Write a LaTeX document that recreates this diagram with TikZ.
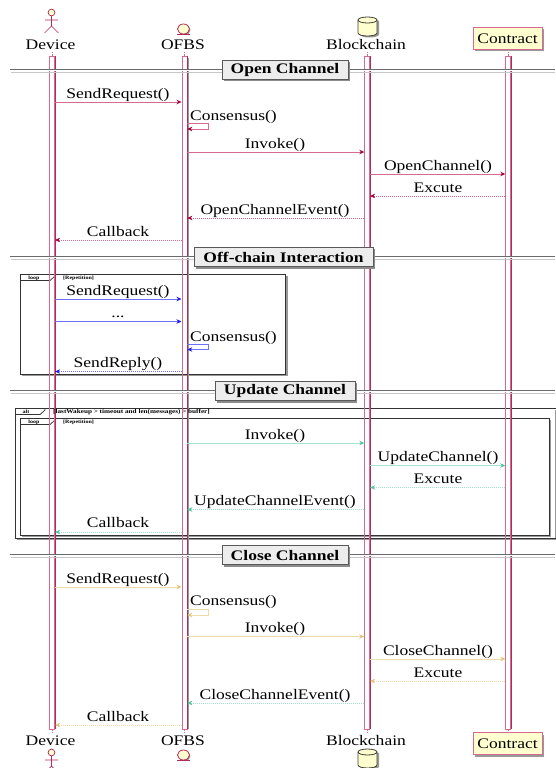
\documentclass[tikz,border=0pt]{standalone}
\usepackage{fontspec}
\setmainfont[FakeStretch=1.2]{Liberation Serif}
\usetikzlibrary{arrows.meta,shapes.geometric}
\definecolor{crim}{HTML}{B02C5C}
\definecolor{crimL}{HTML}{D86A90}
\definecolor{crimD}{HTML}{A80036}
\definecolor{ye}{HTML}{FEFECE}
\definecolor{bluL}{HTML}{6F6FFF}
\definecolor{bluD}{HTML}{1A1AF0}
\definecolor{grnL}{HTML}{A4E4CC}
\definecolor{grnD}{HTML}{4CC8A0}
\definecolor{ambL}{HTML}{EEDCA8}
\definecolor{ambD}{HTML}{E2C47C}
\tikzset{
  lbl/.style={anchor=base,inner sep=0pt,font=\fontsize{14.6}{16}\selectfont},
  lblw/.style={lbl,anchor=base west},
  tiny/.style={anchor=base,inner sep=0pt,font=\fontsize{5}{6}\selectfont\bfseries},
  tinyw/.style={tiny,anchor=base west},
  ttl/.style={draw=black!65,line width=1pt,fill=black!7,inner sep=0pt,minimum height=19pt,text=black,
     font=\fontsize{14.6}{16}\selectfont\bfseries},
  barbox/.style={draw=crimL,line width=.8pt,minimum width=5pt,minimum height=673pt,inner sep=0pt},
  divl/.style={draw=black!58,line width=.8pt,double=white,double distance=.5pt},
  divs/.style={draw=black!22,line width=.8pt},
  frm/.style={draw=black!80,line width=1pt},
  sol/.style={line width=.7pt,draw=#1L,-{Stealth[length=5pt,width=4.5pt,color=#1D]}},
  dsh/.style={line width=.6pt,draw=#1L,dash pattern=on 1pt off 1pt,-{Stealth[length=5pt,width=4.5pt,color=#1D]}},
  stub/.style={draw=crimL,line width=.5pt,dash pattern=on 1.5pt off 1.5pt},
  head/.style={draw=crimL,line width=1pt,fill=ye,inner sep=0pt,minimum width=69pt,minimum height=22pt,
     font=\fontsize{14.6}{16}\selectfont},
  actorpic/.pic={
    \draw[crim,line width=.7pt,fill=ye] (0,-7.5) circle[radius=3.4pt];
    \draw[crim,line width=.7pt] (0,-4) -- (0,6) (-6.5,0) -- (6.5,0) (-7,13) -- (0,6) -- (7,13);
  },
  entitypic/.pic={
    \fill[black!40] (1,1) ellipse[x radius=6pt,y radius=5pt];
    \draw[crim,line width=.8pt,fill=ye] (0,0) ellipse[x radius=6pt,y radius=5pt];
    \draw[crim,line width=.8pt] (-6.5,5.5) -- (6.5,5.5);
  },
  dbpic/.pic={
    \fill[black!40] (-7.5,-5) -- (-7.5,8.5) arc[start angle=180,end angle=360,x radius=9.5pt,y radius=3pt] -- (11.5,-5) -- cycle;
    \draw[black!75!ye,line width=.8pt,fill=ye] (-9.5,-6) -- (-9.5,7) arc[start angle=180,end angle=360,x radius=9.5pt,y radius=3pt]
      -- (9.5,-6) arc[start angle=0,end angle=180,x radius=9.5pt,y radius=3pt] -- cycle;
    \draw[black!75!ye,line width=.8pt] (-9.5,-6) arc[start angle=180,end angle=360,x radius=9.5pt,y radius=3pt];
  }
}
\begin{document}
\begin{tikzpicture}[x=1pt,y=-1pt]
\useasboundingbox (0,0) rectangle (555,768);
\fill[white] (0,0) rectangle (555,768);

% frame backgrounds
\fill[black!40] (22,276) rectangle (287.5,376);
\fill[white] (20,274) rectangle (285.5,374);
\fill[black!40] (17,410) rectangle (557,540);
\fill[white] (15,408) rectangle (555,538);
\fill[black!40] (22,420) rectangle (551,537);
\fill[white] (20,418) rectangle (549,535);
% frame outlines
\draw[frm] (20,274) rectangle (285.5,374);
\draw[frm,line width=.7pt] (20,280.5) -- (50,280.5) -- (55,276) -- (55,274);
\draw[frm] (15,408) -- (556,408) (556,538) -- (15,538) -- (15,408);
\draw[frm,line width=.7pt] (15,414.5) -- (40,414.5) -- (45,410) -- (45,408);
\draw[frm] (20,418) rectangle (549,535);
\draw[frm,line width=.7pt] (20,424.5) -- (50,424.5) -- (55,420) -- (55,418);

% lifelines
\foreach \cx in {52.2,184.4,367.2,508.2}{
  \fill[black!40] (\cx+2.8,58) rectangle (\cx+4.2,729);
}
\node[barbox] (dev) at (52.2,392.5) {};
\node[barbox] (ofb) at (184.4,392.5) {};
\node[barbox] (bch) at (367.2,392.5) {};
\node[barbox] (con) at (508.2,392.5) {};
\draw[crim,line width=.7pt] (dev.north east) -- (dev.south east);
\draw[crim,line width=.7pt] (ofb.north east) -- (ofb.south east);
\draw[crim,line width=.7pt] (bch.north east) -- (bch.south east);
\draw[crim,line width=.7pt] (con.north east) -- (con.south east);

% frame labels
\node[tiny] (loopA) at (34,279) {loop};
\node[tinyw] (repA) at (63,279) {[Repetition]};
\node[tiny] (altA) at (26,413.5) {alt};
\node[tinyw,font=\fontsize{6}{7}\selectfont\bfseries] (guard) at (53,413.5) {[lastWakeup > timeout and len(messages) > buffer]};
\node[tiny] (loopB) at (34,423) {loop};
\node[tinyw] (repB) at (63,423) {[Repetition]};

% participants, top
\node[lbl] (devT) at (50.5,49) {Device};
\node[lbl] (ofbT) at (183,49) {OFBS};
\node[lbl] (bchT) at (366,49) {Blockchain};
\fill[black!40] (475,29.5) rectangle (544,51.5);
\node[head] (conT) at (507.5,38.5) {Contract};
\pic at (51.5,20) {actorpic};
\pic at (183.5,29) {entitypic};
\pic at (367.5,26) {dbpic};
% participants, bottom
\node[lbl] (devB) at (50.5,745) {Device};
\node[lbl] (ofbB) at (183,745) {OFBS};
\node[lbl] (bchB) at (366,745) {Blockchain};
\fill[black!40] (475,734.5) rectangle (544,756.5);
\node[head] (conB) at (507.5,743.5) {Contract};
\pic at (51.5,760) {actorpic};
\pic at (183.5,755) {entitypic};
\pic at (367.5,758) {dbpic};
\draw[stub] (dev.north) -- ++(0,-4);
\draw[stub] (ofb.north) -- ++(0,-4);
\draw[stub] (bch.north) -- ++(0,-4);
\draw[stub] (con.north) -- ++(0,-4);
\draw[stub] (dev.south) -- ++(0,4);
\draw[stub] (ofb.south) -- ++(0,4);
\draw[stub] (bch.south) -- ++(0,4);
\draw[stub] (con.south) -- ++(0,4);

% dividers
\coordinate (dL1) at (10,70);   \coordinate (dR1) at (555,70);
\coordinate (dL2) at (10,257);  \coordinate (dR2) at (555,257);
\coordinate (dL3) at (10,391);  \coordinate (dR3) at (555,391);
\coordinate (dL4) at (10,555);  \coordinate (dR4) at (555,555);
\draw[divs] (11,72) -- (555,72);
\draw[divs] (11,259) -- (555,259);
\draw[divs] (11,393) -- (555,393);
\draw[divs] (11,557) -- (555,557);
\draw[divl] (dL1) -- (dR1);
\draw[divl] (dL2) -- (dR2);
\draw[divl] (dL3) -- (dR3);
\draw[divl] (dL4) -- (dR4);
\fill[black!45] (224,62) rectangle (350,81);
\fill[black!45] (196,249) rectangle (375,269);
\fill[black!45] (217,383) rectangle (357,403);
\fill[black!45] (224,547) rectangle (350,567);
\node[ttl,minimum width=126pt] (t1) at (285,70) {Open Channel};
\node[ttl,minimum width=179pt] (t2) at (283.5,257) {Off-chain Interaction};
\node[ttl,minimum width=140pt] (t3) at (285,391) {Update Channel};
\node[ttl,minimum width=126pt] (t4) at (285,555) {Close Channel};

% Open Channel
\node[lbl] (a1) at (118,98) {SendRequest()};
\draw[sol=crim] (dev.east |- 0,102) -- (ofb.west |- 0,102);
\node[lblw] (a2) at (190,120) {Consensus()};
\draw[sol=crim] (ofb.east |- 0,123) -- (208,123) -- (208,129) -- (ofb.east |- 0,129);
\node[lbl] (a3) at (275,148) {Invoke()};
\draw[sol=crim] (ofb.east |- 0,152) -- (bch.west |- 0,152);
\node[lbl] (a4) at (438,170) {OpenChannel()};
\draw[sol=crim] (bch.east |- 0,174) -- (con.west |- 0,174);
\node[lbl] (a5) at (438,192) {Excute};
\draw[dsh=crim] (con.west |- 0,196) -- (bch.east |- 0,196);
\node[lbl] (a6) at (275,214) {OpenChannelEvent()};
\draw[dsh=crim] (bch.west |- 0,218) -- (ofb.east |- 0,218);
\node[lbl] (a7) at (118,236) {Callback};
\draw[dsh=crim] (ofb.west |- 0,240) -- (dev.east |- 0,240);

% Off-chain
\node[lbl] (b1) at (118,295) {SendRequest()};
\draw[sol=blu] (dev.east |- 0,299) -- (ofb.west |- 0,299);
\node[lbl] (b2) at (118,317) {...};
\draw[sol=blu] (dev.east |- 0,321.5) -- (ofb.west |- 0,321.5);
\node[lblw] (b3) at (190,341) {Consensus()};
\draw[sol=blu] (ofb.east |- 0,344) -- (208,344) -- (208,349.5) -- (ofb.east |- 0,349.5);
\node[lbl] (b4) at (118,367) {SendReply()};
\draw[dsh=blu] (ofb.west |- 0,371.5) -- (dev.east |- 0,371.5);

% Update
\node[lbl] (c1) at (275,439) {Invoke()};
\draw[sol=grn] (ofb.east |- 0,443) -- (bch.west |- 0,443);
\node[lbl] (c2) at (438,461) {UpdateChannel()};
\draw[sol=grn] (bch.east |- 0,465.5) -- (con.west |- 0,465.5);
\node[lbl] (c3) at (438,483) {Excute};
\draw[dsh=grn] (con.west |- 0,487.5) -- (bch.east |- 0,487.5);
\node[lbl] (c4) at (275,505) {UpdateChannelEvent()};
\draw[dsh=grn] (bch.west |- 0,509.5) -- (ofb.east |- 0,509.5);
\node[lbl] (c5) at (118,527.5) {Callback};
\draw[dsh=grn] (ofb.west |- 0,532) -- (dev.east |- 0,532);

% Close
\node[lbl] (d1) at (118,583) {SendRequest()};
\draw[sol=amb] (dev.east |- 0,587) -- (ofb.west |- 0,587);
\node[lblw] (d2) at (190,605.5) {Consensus()};
\draw[sol=amb] (ofb.east |- 0,609) -- (208,609) -- (208,615) -- (ofb.east |- 0,615);
\node[lbl] (d3) at (275,632) {Invoke()};
\draw[sol=amb] (ofb.east |- 0,636.5) -- (bch.west |- 0,636.5);
\node[lbl] (d4) at (438,655) {CloseChannel()};
\draw[sol=amb] (bch.east |- 0,659) -- (con.west |- 0,659);
\node[lbl] (d5) at (438,677) {Excute};
\draw[dsh=amb] (con.west |- 0,681) -- (bch.east |- 0,681);
\node[lbl] (d6) at (275,699) {CloseChannelEvent()};
\draw[dsh=grn] (bch.west |- 0,703) -- (ofb.east |- 0,703);
\node[lbl] (d7) at (118,721) {Callback};
\draw[dsh=amb] (ofb.west |- 0,725) -- (dev.east |- 0,725);
\end{tikzpicture}
\end{document}
